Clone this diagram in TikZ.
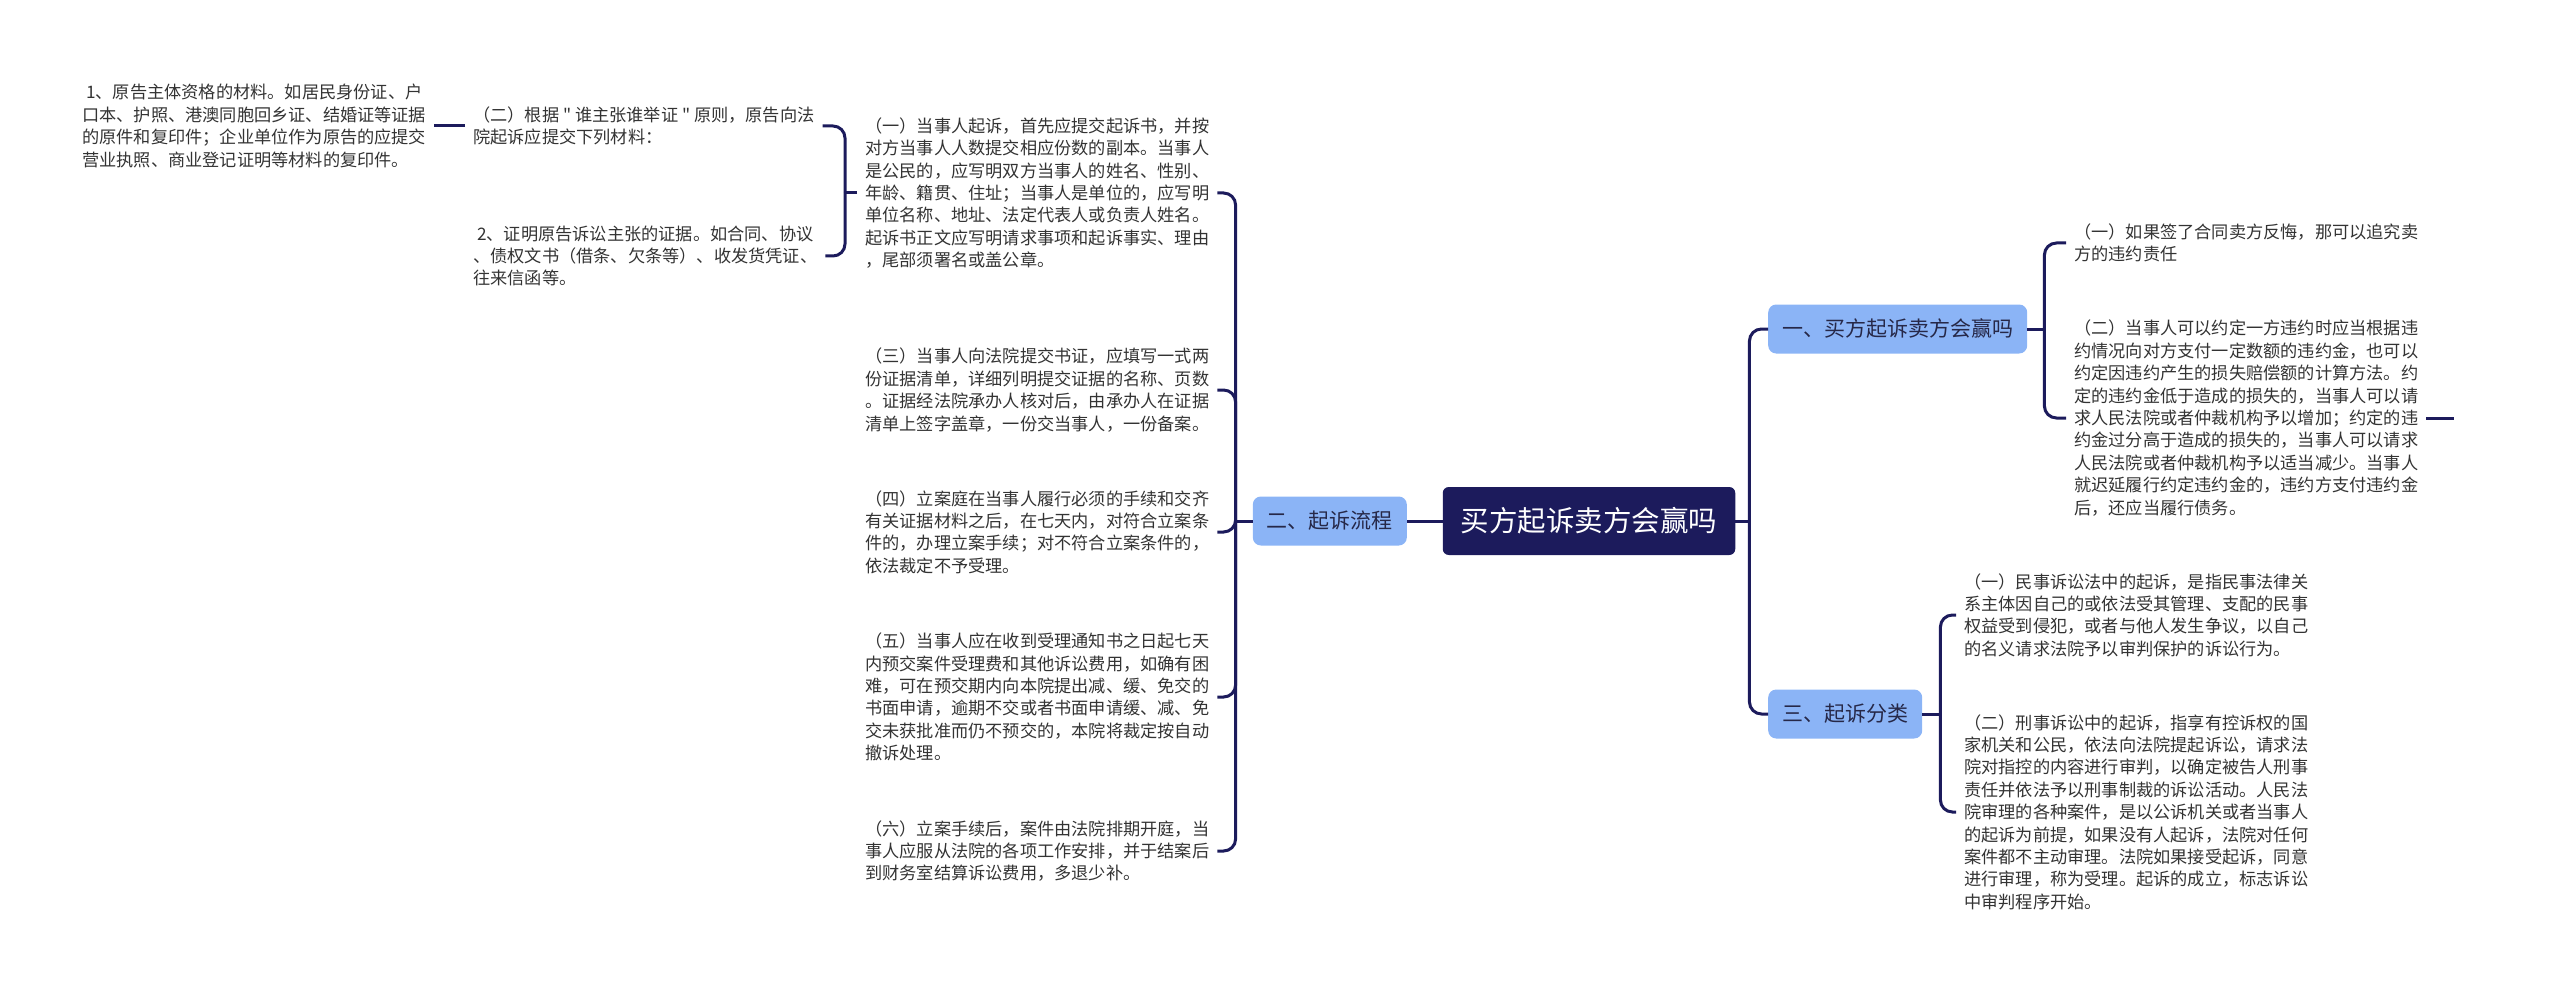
\documentclass[tikz,border=0pt]{standalone}
\usepackage{fontspec}
\usepackage{tikz}
\usetikzlibrary{positioning,calc}
\newfontfamily\cjk{Noto Sans CJK SC}
\definecolor{navy}{RGB}{28,27,92}
\definecolor{soft}{RGB}{139,180,246}
\definecolor{ink}{RGB}{51,51,51}
\definecolor{subink}{RGB}{38,40,72}

\begin{document}
\begin{tikzpicture}[x=1pt, y=-1pt,
  link/.style={draw=navy, line width=3pt},
  bracket/.style={link, rounded corners=12pt},
  rootbox/.style={fill=navy, text=white, rounded corners=6pt, minimum height=68pt, inner xsep=18pt, font=\cjk\fontsize{28.5}{34}\selectfont},
  topic/.style={fill=soft, text=subink, rounded corners=8pt, minimum height=49pt, inner xsep=14pt, font=\cjk\fontsize{21}{25}\selectfont},
  leaf/.style={text=ink, align=left, inner xsep=8pt, inner ysep=3pt, font=\cjk\fontsize{17.2}{22.4}\selectfont}]
\useasboundingbox (0,0) rectangle (2560,995);

% root and the three topics
\node[rootbox] (root) at (1589,521) {买方起诉卖方会赢吗};
\node[topic, anchor=east] (flow) at (1407,521) {二、起诉流程};
\node[topic, anchor=west] (win) at (1768,329) {一、买方起诉卖方会赢吗};
\node[topic, anchor=west] (kind) at (1768,714) {三、起诉分类};

% left side: steps of the suit
\node[leaf, anchor=west] (flowA) at (857,193) {（一）当事人起诉，首先应提交起诉书，并按\\对方当事人人数提交相应份数的副本。当事人\\是公民的，应写明双方当事人的姓名、性别、\\年龄、籍贯、住址；当事人是单位的，应写明\\单位名称、地址、法定代表人或负责人姓名。\\起诉书正文应写明请求事项和起诉事实、理由\\，尾部须署名或盖公章。};
\node[leaf, anchor=west] (flowC) at (857,390) {（三）当事人向法院提交书证，应填写一式两\\份证据清单，详细列明提交证据的名称、页数\\。证据经法院承办人核对后，由承办人在证据\\清单上签字盖章，一份交当事人，一份备案。};
\node[leaf, anchor=west] (flowD) at (857,532) {（四）立案庭在当事人履行必须的手续和交齐\\有关证据材料之后，在七天内，对符合立案条\\件的，办理立案手续；对不符合立案条件的，\\依法裁定不予受理。};
\node[leaf, anchor=west] (flowE) at (857,697) {（五）当事人应在收到受理通知书之日起七天\\内预交案件受理费和其他诉讼费用，如确有困\\难，可在预交期内向本院提出减、缓、免交的\\书面申请，逾期不交或者书面申请缓、减、免\\交未获批准而仍不预交的，本院将裁定按自动\\撤诉处理。};
\node[leaf, anchor=west] (flowF) at (857,851) {（六）立案手续后，案件由法院排期开庭，当\\事人应服从法院的各项工作安排，并于结案后\\到财务室结算诉讼费用，多退少补。};

% materials under step one
\node[leaf, anchor=west] (flowAa) at (465,126) {（二）根据 " 谁主张谁举证 " 原则，原告向法\\院起诉应提交下列材料：};
\node[leaf, anchor=west] (flowAb) at (465,256) {\hspace*{4pt}2、证明原告诉讼主张的证据。如合同、协议\\、债权文书（借条、欠条等）、收发货凭证、\\往来信函等。};
\node[leaf, anchor=west] (flowAaa) at (74,126) {\hspace*{4pt}1、原告主体资格的材料。如居民身份证、户\\口本、护照、港澳同胞回乡证、结婚证等证据\\的原件和复印件；企业单位作为原告的应提交\\营业执照、商业登记证明等材料的复印件。};

% right side leaves
\node[leaf, anchor=west] (winA) at (2066,243) {（一）如果签了合同卖方反悔，那可以追究卖\\方的违约责任};
\node[leaf, anchor=west] (winB) at (2066,418) {（二）当事人可以约定一方违约时应当根据违\\约情况向对方支付一定数额的违约金，也可以\\约定因违约产生的损失赔偿额的计算方法。约\\定的违约金低于造成的损失的，当事人可以请\\求人民法院或者仲裁机构予以增加；约定的违\\约金过分高于造成的损失的，当事人可以请求\\人民法院或者仲裁机构予以适当减少。当事人\\就迟延履行约定违约金的，违约方支付违约金\\后，还应当履行债务。};
\node[leaf, anchor=west] (kindA) at (1956,615) {（一）民事诉讼法中的起诉，是指民事法律关\\系主体因自己的或依法受其管理、支配的民事\\权益受到侵犯，或者与他人发生争议，以自己\\的名义请求法院予以审判保护的诉讼行为。};
\node[leaf, anchor=west] (kindB) at (1956,812) {（二）刑事诉讼中的起诉，指享有控诉权的国\\家机关和公民，依法向法院提起诉讼，请求法\\院对指控的内容进行审判，以确定被告人刑事\\责任并依法予以刑事制裁的诉讼活动。人民法\\院审理的各种案件，是以公诉机关或者当事人\\的起诉为前提，如果没有人起诉，法院对任何\\案件都不主动审理。法院如果接受起诉，同意\\进行审理，称为受理。起诉的成立，标志诉讼\\中审判程序开始。};

% junctions
\coordinate (jr) at ([xshift=14pt]root.east);
\coordinate (jl) at ([xshift=-17pt]flow.west);
\coordinate (ja) at ([xshift=-12pt]flowA.west);
\coordinate (jw) at ([xshift=17pt]win.east);
\coordinate (jk) at ([xshift=18pt]kind.east);
\coordinate (winBend) at ([xshift=28pt]winB.east);

% connectors
\draw[link] (root.west) -- (flow.east);
\draw[link] (root.east) -- (jr);
\draw[bracket] (jr) |- (win.west);
\draw[bracket] (jr) |- (kind.west);
\draw[link] (flow.west) -- (jl);
\foreach \n in {flowA,flowC,flowD,flowE,flowF}
  \draw[bracket] (jl) |- (\n.east);
\draw[link] (flowA.west) -- (ja);
\draw[bracket] (ja) |- (flowAa.east);
\draw[bracket] (ja) |- (flowAb.east);
\draw[link] (flowAa.west) -- (flowAaa.east);
\draw[link] (win.east) -- (jw);
\draw[bracket] (jw) |- (winA.west);
\draw[bracket] (jw) |- (winB.west);
\draw[link] (winB.east) -- (winBend);
\draw[link] (kind.east) -- (jk);
\draw[bracket] (jk) |- (kindA.west);
\draw[bracket] (jk) |- (kindB.west);
\end{tikzpicture}
\end{document}
